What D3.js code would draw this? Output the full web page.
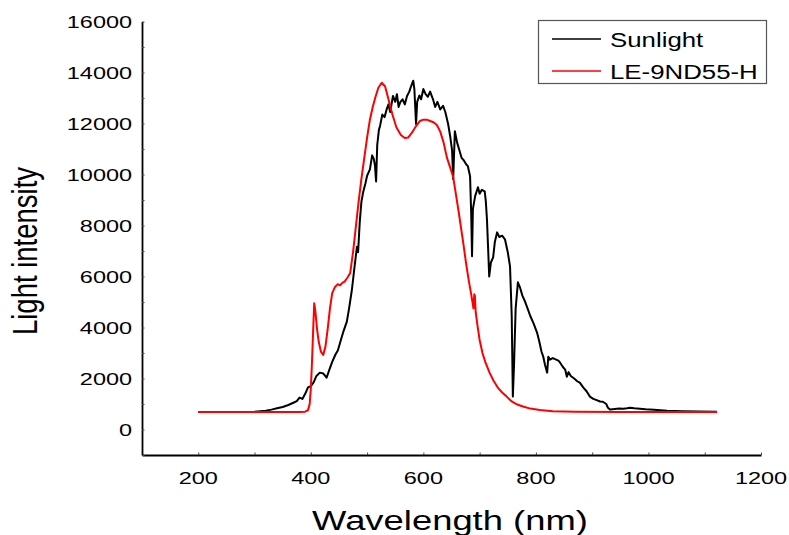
<!DOCTYPE html>
<html>
<head>
<meta charset="utf-8">
<script src="https://cdn.jsdelivr.net/npm/d3@7"></script>
<style>
  body { margin: 0; background: #fff; }
  text { font-family: "Liberation Sans", Arial, sans-serif; fill: #000; }
</style>
</head>
<body>
<div id="chart"></div>
<script>
// Sunlight spectrum (wavelength nm, intensity)
var sunWave = [200, 250, 300, 320, 330, 340, 350, 360, 370, 375, 380, 385, 390, 395, 400, 405, 410, 416, 422, 428,
  433, 438, 444, 448, 452, 458, 464, 468, 473, 477, 482, 484, 487, 490, 493, 497, 500, 505, 509, 512,
  514, 516, 518, 521, 523, 527, 531, 535, 538, 541, 546, 550, 553, 556, 559, 563, 567, 571, 575, 578,
  582, 584, 587, 589, 593, 596, 600, 604, 608, 612, 617, 621, 625, 630, 635, 639, 644, 648, 651, 653,
  656, 660, 664, 668, 672, 676, 679, 683, 685, 686.5, 688, 692, 697, 700, 704, 709, 711, 713, 715, 717,
  720, 724, 727, 731, 735, 740, 745, 750, 754, 757, 759, 761, 764, 768, 772, 776, 780, 784, 790, 796,
  802, 806, 810, 813, 816, 820, 822, 825, 830, 835, 840, 843, 848, 852, 855, 858, 862, 868, 873, 878,
  884, 890, 896, 902, 908, 914, 919, 925, 928, 932, 940, 948, 955, 962, 967, 975, 985, 995, 1010, 1033,
  1060, 1090, 1122];
var sunValue = [690, 690, 700, 740, 780, 830, 880, 960, 1060, 1110, 1250, 1200, 1400, 1650, 1700, 1850, 2100, 2230, 2200, 2030,
  2350, 2650, 2950, 3100, 3400, 3850, 4230, 4750, 5480, 6250, 7170, 6950, 8150, 8950, 9300, 9650, 9950, 10200, 10750, 10600,
  10350, 9730, 11150, 11750, 11900, 12350, 12250, 12570, 12750, 12450, 13080, 12850, 13150, 12650, 12840, 12950, 12750, 13080, 13250, 13450,
  13680, 13350, 11980, 12850, 13100, 12950, 13350, 13150, 13050, 13250, 12960, 12650, 12850, 12550, 12690, 12450, 11980, 11450, 10950, 9820,
  11700, 11250, 10950, 10650, 10550, 10400, 10330, 9930, 8450, 6790, 8640, 9150, 9500, 9250, 9400, 9340, 8950, 8240, 7150, 6000,
  6550, 6750, 7350, 7730, 7550, 7600, 7460, 6950, 6400, 4450, 1290, 2450, 4750, 5770, 5550, 5250, 5050, 4820, 4450, 4150,
  3800, 3450, 3050, 2860, 2550, 2230, 2850, 2740, 2800, 2750, 2700, 2620, 2450, 2350, 2070, 2250, 2100, 2000, 1900, 1840,
  1650, 1500, 1290, 1200, 1150, 1100, 1090, 1000, 850, 780, 800, 820, 810, 830, 850, 830, 810, 790, 770, 740,
  720, 710, 700];

// LE-9ND55-H spectrum
var ledWave = [200, 300, 380, 390, 395, 398, 400, 402, 404, 406, 408, 411, 414, 418, 422, 426, 430, 434, 438, 443,
  448, 452, 456, 460, 465, 470, 475, 480, 485, 490, 495, 500, 505, 510, 515, 520, 526, 532, 538, 545,
  552, 560, 567, 573, 580, 587, 594, 600, 606, 612, 618, 624, 630, 636, 642, 648, 653, 658, 663, 667,
  671, 676, 681, 685, 688, 689, 690.5, 691.5, 693, 696, 700, 705, 710, 718, 725, 733, 740, 748, 757, 767,
  777, 790, 807, 830, 870, 950, 1050, 1122];
var ledValue = [690, 690, 690, 700, 760, 1000, 1600, 2600, 3800, 4950, 4650, 3950, 3450, 3050, 2920, 3250, 3950, 4750, 5350, 5590,
  5700, 5650, 5750, 5800, 5950, 6140, 6950, 7950, 8950, 9850, 10650, 11450, 12150, 12650, 13050, 13400, 13600, 13450, 12950, 12350,
  11850, 11550, 11430, 11450, 11650, 11900, 12100, 12150, 12150, 12100, 12050, 11940, 11680, 11250, 10650, 10250, 9900, 9200, 8500, 7900,
  7300, 6500, 5800, 5300, 4900, 4750, 5300, 5250, 4600, 4100, 3510, 3000, 2650, 2210, 1900, 1620, 1450, 1290, 1100, 980,
  900, 820, 765, 720, 700, 690, 690, 690];

var xTicks = [200, 400, 600, 800, 1000, 1200];
var yTicks = [0, 2000, 4000, 6000, 8000, 10000, 12000, 14000, 16000];
var seriesNames = ["Sunlight", "LE-9ND55-H"];
var seriesColors = ["#000000", "#ff0000"];

var width = 789, height = 535;

var svg = d3.select("#chart").append("svg")
    .attr("width", width)
    .attr("height", height);

var x = d3.scaleLinear().domain([100, 1200]).range([142, 761]);
var y = d3.scaleLinear().domain([-1000, 16000]).range([455, 21.5]);

// stretched text, the original figure is wider than its fonts
function label(g, tx, ty, str, size, sx, anchor) {
  return g.append("text")
      .attr("transform", "translate(" + tx + "," + ty + ") scale(" + sx + ",1)")
      .attr("text-anchor", anchor)
      .style("font-size", size + "px")
      .text(str);
}

// axes
svg.append("g")
    .attr("transform", "translate(0,455)")
    .call(d3.axisBottom(x).tickValues(d3.range(200, 1201, 100)).tickSize(-2.5).tickSizeOuter(0).tickFormat(""))
    .call(function(g) {
      g.select("path").attr("stroke", "#000").attr("stroke-width", 1.8);
      g.selectAll("line").attr("stroke", "#444").attr("stroke-width", 1);
    });

svg.append("g")
    .attr("transform", "translate(142,0)")
    .call(d3.axisLeft(y).tickValues(d3.range(-1000, 16001, 1000)).tickSize(-2.5).tickSizeOuter(0).tickFormat(""))
    .call(function(g) {
      g.select("path").attr("stroke", "#000").attr("stroke-width", 1.8);
      g.selectAll("line").attr("stroke", "#444").attr("stroke-width", 1);
    });

xTicks.forEach(function(t) {
  label(svg, x(t), 483.5, t, 17, 1.38, "middle");
});
yTicks.forEach(function(t) {
  label(svg, 132, y(t) + 6, t, 17, 1.38, "end");
});

label(svg, 450, 530, "Wavelength (nm)", 28, 1.3, "middle");
svg.append("text")
    .attr("transform", "translate(37,251) rotate(-90) scale(1,1.28)")
    .attr("text-anchor", "middle")
    .style("font-size", "27.5px")
    .text("Light intensity");

// curves
var line = d3.line()
    .x(function(d) { return x(d[0]); })
    .y(function(d) { return y(d[1]); });

var sun = d3.zip(sunWave, sunValue);
var led = d3.zip(ledWave, ledValue);

svg.append("path")
    .datum(sun)
    .attr("fill", "none")
    .attr("stroke", seriesColors[0])
    .attr("stroke-width", 2)
    .attr("stroke-linejoin", "round")
    .attr("d", line);

svg.append("path")
    .datum(led)
    .attr("fill", "none")
    .attr("stroke", seriesColors[1])
    .attr("stroke-width", 2)
    .attr("stroke-linejoin", "round")
    .attr("d", line);

// legend
var legend = svg.append("g");
legend.append("rect")
    .attr("x", 538.5).attr("y", 20.5)
    .attr("width", 228).attr("height", 63)
    .attr("fill", "#fff")
    .attr("stroke", "#555")
    .attr("stroke-width", 1.2);

seriesNames.forEach(function(name, i) {
  var ly = 39 + i * 32;
  legend.append("line")
      .attr("x1", 552).attr("x2", 601)
      .attr("y1", ly).attr("y2", ly)
      .attr("stroke", seriesColors[i])
      .attr("stroke-width", 1.3);
  label(legend, 610, ly + 7.5, name, 20.5, 1.26, "start");
});
</script>
</body>
</html>
